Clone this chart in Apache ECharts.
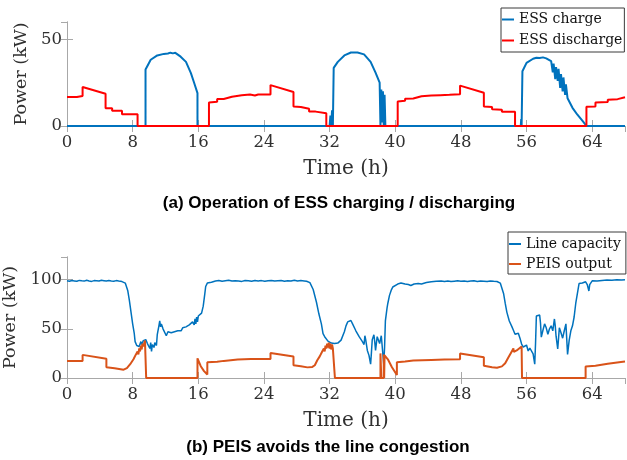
<!DOCTYPE html>
<html>
<head>
<meta charset="utf-8">
<script src="https://cdn.jsdelivr.net/npm/echarts@6/dist/echarts.min.js"></script>
<style>
  html, body { margin: 0; padding: 0; background: #fff; }
  #chart { width: 627px; height: 460px; }
</style>
</head>
<body>
<div id="chart"></div>
<script>
// axis ticks (both panels share the time axis)
const timeTicks = [0, 8, 16, 24, 32, 40, 48, 56, 64];
const timeMax = 68;
const essPowerTicks = [0, 50];
const essPowerMax = 60;
const linePowerTicks = [0, 50, 100];
const linePowerMax = 123;

// (a) ESS charge, time (h) / power (kW)
const essChargeT = [0, 9.57, 9.57, 10.2, 11, 11.8, 12.3, 12.6, 12.9, 13.2, 13.85, 14.5, 15.1, 15.5, 15.9, 15.9,
  32, 32.1, 32.2, 32.3, 32.4, 32.5, 32.5, 33, 33.8, 34.6, 35.4, 36.2, 37, 37.6, 38.1, 38.2, 38.3, 38.4, 38.5, 38.6, 38.7, 38.8,
  55.3, 55.35, 55.4, 55.5, 55.5, 56, 56.8, 57.2, 57.6, 58, 58.4, 59, 59.2, 59.3, 59.5, 59.6, 59.8, 59.9, 60.1, 60.2,
  60.4, 60.5, 60.7, 60.8, 61, 61.6, 62.2, 62.9, 63.3, 68];
const essChargeKW = [0, 0, 32.6, 38.2, 40.7, 41.6, 41.8, 42.3, 41.9, 42.2, 40, 37, 30.5, 24.8, 19, 0,
  0, 6, 0, 9, 0, 0, 33.5, 37, 40.7, 42.4, 42.4, 41.3, 37, 30.8, 25, 0, 21, 2, 20, 0, 18, 0,
  0, 4, 0, 0, 31.6, 36.4, 38.8, 39.4, 39.2, 39.6, 39, 37.4, 31, 36, 27, 34, 26, 33, 22, 30,
  20, 28, 18, 24, 16, 10.5, 6.5, 2.5, 0, 0];

// (a) ESS discharge
const essDischargeT = [0, 1.2, 1.2, 1.9, 1.9, 4.7, 4.7, 5.5, 5.5, 6.7, 6.7, 8.6, 8.6, 17.3, 17.3, 18.3, 18.3, 19.1, 19.1, 20.1,
  20.1, 21.3, 22.3, 22.9, 23.3, 24.8, 24.8, 27.6, 27.6, 28.5, 28.5, 29.5, 29.5, 30.3, 30.3, 31.6, 31.6, 40.3, 40.3, 41.2,
  41.2, 42.2, 42.2, 43.2, 44.4, 45.5, 46.6, 47.9, 47.9, 50.8, 50.8, 51.8, 51.8, 53, 53, 54.6, 54.6, 63.3, 63.3, 64.4,
  64.4, 65.9, 65.9, 67.1, 67.1, 68];
const essDischargeKW = [16.7, 16.7, 17.3, 17.3, 22.5, 18.6, 10.3, 10.3, 8.8, 8.8, 6.8, 6.8, 0, 0, 13.6, 14, 15.6, 15.6, 16.5, 16.9,
  17.6, 17.8, 18.2, 17.6, 18.2, 18.2, 23.6, 19.6, 11.2, 11, 9.9, 9.9, 8.3, 8.3, 7.3, 7.3, 0, 0, 14.1, 14.5,
  15.7, 15.9, 16.8, 17.2, 17.6, 17.8, 18, 18.3, 23.3, 19.2, 11.2, 11, 9.6, 9.4, 8.2, 8.2, 0, 0, 11.1, 11.3,
  13.5, 13.8, 15.2, 15.5, 16.3, 16.6];

// (b) line capacity
const lineCapT = [0, 0.3, 0.6, 0.9, 1.2, 1.5, 1.8, 2.1, 2.4, 2.7, 3.0, 3.3, 3.6, 3.9, 4.2, 4.5, 4.8, 5.1, 5.4, 5.7, 6.0, 6.3,
  6.7, 7.1, 7.4, 7.6, 7.8, 8.0, 8.2, 8.3, 8.5, 8.7, 8.8, 9.0, 9.1, 9.3, 9.5, 9.6, 9.8, 9.9, 10.1, 10.2, 10.3, 10.4, 10.6,
  10.7, 10.9, 11.0, 11.2, 11.3, 11.4, 11.5, 11.7, 11.9, 12.1, 12.3, 12.5, 12.7, 12.9, 13.1, 13.3, 13.5, 13.7, 13.9, 14.1,
  14.3, 14.5, 14.7, 14.9, 15.1, 15.3, 15.5, 15.6, 15.7, 15.8, 15.9, 16.0, 16.2, 16.4, 16.6, 16.8, 16.9, 17.1, 17.3, 17.6, 17.8,
  18.1, 18.5, 18.9, 19.3, 19.7, 20.1, 20.5, 20.9, 21.3, 21.7, 22.1, 22.5, 22.9, 23.3, 23.7, 24.1, 24.5, 24.9, 25.3, 25.7,
  26.1, 26.5, 26.9, 27.3, 27.7, 28.1, 28.5, 28.9, 29.2,
  29.6, 30, 30.4, 30.7, 31, 31.2, 31.4, 31.6, 31.8, 32.0, 32.2, 32.4, 32.6, 32.8, 33, 33.2, 33.4, 33.6, 33.8, 34.0, 34.2,
  34.4, 34.6, 34.8, 35.0, 35.2, 35.4, 35.6, 35.8, 36.0, 36.2, 36.3, 36.4, 36.6, 36.8, 37.0, 37.1, 37.2, 37.4, 37.5, 37.6,
  37.8, 37.9, 38.1, 38.3, 38.5, 38.6, 38.7, 38.8, 39.0, 39.1, 39.3, 39.5, 39.7, 39.9, 40.3, 40.7, 41.2, 41.6, 41.9, 42.3,
  42.8, 43.2, 43.8, 44.4, 45, 45.6,
  46.0, 46.4, 46.8, 47.2, 47.6, 48.0, 48.4, 48.8, 49.2, 49.6, 50.0, 50.4, 50.8, 51.2, 51.6, 52.0, 52.4,
  52.8, 53.2, 53.4, 53.6, 53.9, 54.2, 54.4, 54.6, 54.8, 55, 55.2, 55.4, 55.6, 55.8, 56.0, 56.2, 56.4, 56.6, 56.8, 57.0,
  57.1, 57.2, 57.4, 57.6, 57.7, 57.8, 58.0, 58.2, 58.4, 58.6, 58.8, 59.0, 59.2, 59.4, 59.5, 59.6, 59.8, 60.0, 60.2, 60.4,
  60.6, 60.8, 61.0, 61.2, 61.4, 61.6, 61.8, 62.0, 62.2, 62.4, 62.8, 63.2, 63.4, 63.6, 63.7, 64.0, 64.6, 65.2, 65.8, 66.4,
  67.0, 67.6, 68.0];
const lineCapKW = [98.9, 98.4, 99.1, 98.7, 98.3, 99.2, 98.8, 98.5, 99.3, 98.7, 98.2, 99.0, 98.8, 98.6, 99.3, 98.9, 98.5, 99.1, 98.7, 98.4, 99.0, 98.5,
  98, 96.5, 89, 79, 67, 55, 45, 37, 33, 35, 32, 37, 34, 38, 36, 39, 35, 37, 30, 36, 27, 34, 31,
  36, 33, 44, 53, 58, 52, 55, 50, 52, 43, 47, 49, 46, 48, 47, 49, 48, 50, 48, 51,
  50, 52, 51, 54, 52, 57, 54, 60, 55, 62, 57, 63, 64, 66, 73, 86, 93, 96.5, 98, 97.4, 98.8,
  98.6, 99.1, 98.4, 98.9, 99.3, 98.5, 98.9, 98.7, 98.2, 99.1, 98.8, 98.4, 99.2, 98.6, 99.0, 98.3, 98.9, 99.2, 98.5, 98.8,
  99.1, 98.4, 98.9, 98.6, 99.3, 98.5, 99.0, 98.7, 98.4,
  97, 90, 77, 65, 55, 45, 42, 40, 37.5, 37, 35.5, 36.5, 35, 36.5, 35.5, 37.5, 38.5, 40.5, 47, 53, 57,
  56, 58.5, 55, 53, 48, 46, 42, 40, 37, 34, 43, 39, 28, 23, 14, 26, 39, 44, 37, 28,
  42, 44, 35, 43, 44, 14, 31, 58, 71, 76, 84, 89, 92.5, 94.5, 95.5, 96.5, 95.5, 95, 94, 95.5,
  96, 95.5, 97, 97.8, 98.3, 98.6,
  98.2, 98.6, 98.0, 98.4, 98.8, 98.3, 98.7, 98.1, 98.5, 98.8, 98.2, 98.6, 98.4, 98.0, 98.7, 98.3, 98.1,
  96.5, 86, 76, 67, 58, 52.5, 48.5, 44.5, 46.5, 45.5, 40.5, 34.5, 31.5, 29.5, 33.5, 27.5, 30.5, 29.5, 24.5, 14,
  35.5, 63, 61, 64, 56, 41.5, 48.5, 55, 51, 44.5, 50, 53, 48, 60, 53, 42.5, 29.5, 51, 46, 40.5,
  48, 55, 24, 38.5, 48, 53, 62, 76, 86, 96, 96.5, 97.8, 95, 88.5, 95, 98.8, 98.5, 99.2, 99.6, 99.3,
  99.8, 99.5, 99.8];

// (b) PEIS output
const peisT = [0, 1.9, 1.9, 4.8, 4.8, 5.8, 5.8, 6.9, 7.3, 7.7, 8.1, 8.4, 8.6, 8.7, 8.8, 8.9, 9.0, 9.1, 9.2, 9.3, 9.5, 9.6, 9.65,
  15.9, 15.9, 16.3, 16.7, 17.1, 17.1, 18.3, 18.3, 19.1, 19.1, 20.8, 22.4, 24.8, 24.8, 27.6, 27.6, 28.5, 29.3, 29.9,
  30.2, 30.5, 30.8, 31.1, 31.3, 31.4, 31.5, 31.6, 31.7, 31.8, 31.9, 32.0, 32.1, 32.2, 32.3, 32.4, 32.6, 32.65,
  38.2, 38.2, 38.3, 38.6, 38.6, 38.65, 38.7, 39.1, 39.6, 40.2, 40.2, 41.2, 42.2, 44.4, 46, 47.9, 47.9, 50.8, 50.8,
  51.8, 52.4, 53.0, 53.4, 53.8, 54.2, 54.4, 54.45, 54.8, 55.1, 55.4, 55.45, 63.2, 63.2, 64.4, 64.4, 65.9, 65.9, 67.5, 68];
const peisKW = [17.3, 17.3, 23.5, 19.5, 11, 10, 9, 8.5, 10, 14, 19, 24, 27, 24, 30, 27, 33, 29, 35, 32, 38, 37, 0,
  0, 20, 12, 7, 3.5, 16, 16.5, 17.2, 17.4, 18.3, 18.8, 19.2, 19.3, 25.5, 21.8, 13, 12, 10.8, 11.3,
  13, 18, 22, 27, 30, 27, 33, 30, 35, 31, 36, 30, 35, 29, 34, 30, 32, 0,
  0, 25, 0, 0, 24, 0, 23, 19, 11, 3, 16, 16.8, 17.7, 18.3, 18.7, 19, 24.8, 21, 12.5,
  11, 10.5, 11.8, 15, 21, 27, 30, 26.5, 28, 30, 32, 0, 0, 11.8, 12.5, 13.8, 14.5, 15.3, 16.3, 16.8];

const zip = (t, v) => t.map((x, i) => [x, v[i]]);

const serif = '"DejaVu Serif", "Liberation Serif", serif';
const boxColor = '#a8a8a8';
const labelColor = '#303030';

function bottomAxis(grid, name) {
  return {
    gridIndex: grid, type: 'value', position: 'bottom',
    min: timeTicks[0], max: timeMax, interval: timeTicks[1] - timeTicks[0],
    name: name, nameLocation: 'middle', nameGap: 33,
    nameTextStyle: { fontFamily: serif, fontSize: 20, color: labelColor },
    axisLine: { lineStyle: { color: boxColor, width: 1 } },
    axisTick: { inside: true, length: 6, lineStyle: { color: boxColor } },
    axisLabel: { fontFamily: serif, fontSize: 16.5, color: labelColor, margin: 8, showMaxLabel: false },
    splitLine: { show: false }
  };
}

function topAxis(grid) {
  return {
    gridIndex: grid, type: 'value', position: 'top',
    min: timeTicks[0], max: timeMax, interval: timeTicks[1] - timeTicks[0],
    axisLine: { lineStyle: { color: boxColor, width: 1 } },
    axisTick: { inside: true, length: 6, lineStyle: { color: boxColor } },
    axisLabel: { show: false },
    splitLine: { show: false }
  };
}

function leftAxis(grid, ticks, max, gap) {
  return {
    gridIndex: grid, type: 'value', position: 'left',
    min: ticks[0], max: max, interval: ticks[1] - ticks[0],
    name: 'Power (kW)', nameLocation: 'middle', nameGap: gap, nameRotate: 90,
    nameTextStyle: { fontFamily: serif, fontSize: 17.5, color: labelColor },
    axisLine: { show: true, lineStyle: { color: boxColor, width: 1 } },
    axisTick: { show: true, inside: true, length: 6, lineStyle: { color: boxColor } },
    axisLabel: { fontFamily: serif, fontSize: 16.5, color: labelColor, margin: 5, showMaxLabel: false },
    splitLine: { show: false }
  };
}

function rightAxis(grid, ticks, max) {
  return {
    gridIndex: grid, type: 'value', position: 'right',
    min: ticks[0], max: max, interval: ticks[1] - ticks[0],
    axisLine: { show: true, lineStyle: { color: boxColor, width: 1 } },
    axisTick: { show: true, inside: true, length: 6, lineStyle: { color: boxColor } },
    axisLabel: { show: false },
    splitLine: { show: false }
  };
}

function legendBox(names, left, top, lineHeight, padding) {
  return {
    data: names, orient: 'vertical', left: left, top: top,
    icon: 'rect', itemWidth: 12, itemHeight: 2, itemGap: 2,
    padding: padding, backgroundColor: '#fff', borderColor: '#3a3a3a', borderWidth: 1,
    selectedMode: false,
    textStyle: { fontFamily: serif, fontSize: 14, lineHeight: lineHeight, color: '#111' }
  };
}

const chart = echarts.init(document.getElementById('chart'));

const option = {
  animation: false,
  backgroundColor: '#fff',
  grid: [
    { left: 67, top: 22, width: 558, height: 104, outerBoundsMode: 'none' },
    { left: 67, top: 257, width: 558, height: 121, outerBoundsMode: 'none' }
  ],
  xAxis: [bottomAxis(0, 'Time (h)'), topAxis(0), bottomAxis(1, 'Time (h)'), topAxis(1)],
  yAxis: [
    leftAxis(0, essPowerTicks, essPowerMax, 29), rightAxis(0, essPowerTicks, essPowerMax),
    leftAxis(1, linePowerTicks, linePowerMax, 36), rightAxis(1, linePowerTicks, linePowerMax)
  ],
  legend: [
    legendBox(['ESS charge', 'ESS discharge'], 501, 8, 19, [2, 2, 2, 1]),
    legendBox(['Line capacity', 'PEIS output'], 508, 232, 18, [3, 5, 1, 1])
  ],
  series: [
    {
      name: 'ESS charge', type: 'line', xAxisIndex: 0, yAxisIndex: 0,
      data: zip(essChargeT, essChargeKW), showSymbol: false,
      color: '#0072BD', lineStyle: { width: 2, color: '#0072BD' }
    },
    {
      name: 'ESS discharge', type: 'line', xAxisIndex: 0, yAxisIndex: 0,
      data: zip(essDischargeT, essDischargeKW), showSymbol: false,
      color: '#FF0000', lineStyle: { width: 2, color: '#FF0000' }
    },
    {
      name: 'Line capacity', type: 'line', xAxisIndex: 2, yAxisIndex: 2,
      data: zip(lineCapT, lineCapKW), showSymbol: false,
      color: '#0072BD', lineStyle: { width: 1.5, color: '#0072BD' }
    },
    {
      name: 'PEIS output', type: 'line', xAxisIndex: 2, yAxisIndex: 2,
      data: zip(peisT, peisKW), showSymbol: false,
      color: '#D95319', lineStyle: { width: 2, color: '#D95319' }
    }
  ],
  graphic: [
    {
      type: 'text', x: 339, y: 203,
      style: {
        text: '(a) Operation of ESS charging / discharging',
        fontFamily: '"Liberation Sans", Arial, sans-serif', fontWeight: 'bold', fontSize: 17,
        fill: '#000', align: 'center', verticalAlign: 'middle'
      }
    },
    {
      type: 'text', x: 328, y: 447,
      style: {
        text: '(b) PEIS avoids the line congestion',
        fontFamily: '"Liberation Sans", Arial, sans-serif', fontWeight: 'bold', fontSize: 17,
        fill: '#000', align: 'center', verticalAlign: 'middle'
      }
    }
  ]
};

chart.setOption(option);
</script>
</body>
</html>
